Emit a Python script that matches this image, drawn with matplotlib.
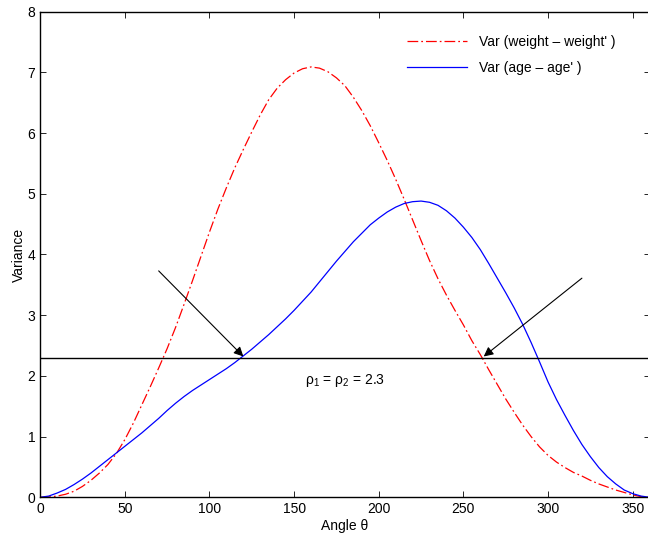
import matplotlib
matplotlib.use("Agg")
import matplotlib.pyplot as plt

plt.rcParams["font.family"] = ["Liberation Sans", "DejaVu Sans"]
plt.rcParams["mathtext.fontset"] = "custom"
plt.rcParams["mathtext.rm"] = "Liberation Sans"
plt.rcParams["mathtext.it"] = "Liberation Sans"

# angle (degrees) and variance
angle = list(range(0, 361, 5))
var_weight = [0, 0.005, 0.02, 0.05, 0.10, 0.18, 0.28, 0.40, 0.54, 0.72,
              0.95, 1.22, 1.52, 1.82, 2.13, 2.45, 2.80, 3.18, 3.57, 3.97,
              4.37, 4.75, 5.10, 5.43, 5.73, 6.02, 6.30, 6.55, 6.74, 6.88,
              6.99, 7.06, 7.09, 7.07, 7.01, 6.91, 6.78, 6.59, 6.37, 6.12,
              5.84, 5.55, 5.24, 4.91, 4.57, 4.23, 3.90, 3.60, 3.33, 3.08,
              2.84, 2.58, 2.35, 2.10, 1.86, 1.62, 1.40, 1.19, 1.00, 0.83,
              0.69, 0.58, 0.49, 0.41, 0.35, 0.28, 0.22, 0.17, 0.12, 0.08,
              0.04, 0.01, 0]
var_age = [0, 0.02, 0.07, 0.13, 0.21, 0.30, 0.40, 0.51, 0.62, 0.73,
           0.84, 0.95, 1.06, 1.18, 1.30, 1.43, 1.55, 1.66, 1.76, 1.85,
           1.94, 2.03, 2.12, 2.22, 2.33, 2.44, 2.56, 2.68, 2.81, 2.94,
           3.08, 3.23, 3.38, 3.55, 3.72, 3.89, 4.05, 4.21, 4.35, 4.49,
           4.60, 4.70, 4.78, 4.84, 4.87, 4.88, 4.86, 4.81, 4.72, 4.60,
           4.45, 4.28, 4.08, 3.85, 3.61, 3.37, 3.12, 2.85, 2.55, 2.23,
           1.90, 1.61, 1.35, 1.10, 0.87, 0.67, 0.49, 0.34, 0.22, 0.12,
           0.06, 0.02, 0]
rho = 2.3
# arrows: (start, end) in data coords
arrow_left = ((70, 3.73), (120, 2.32))
arrow_right = ((320, 3.61), (262, 2.32))

fig = plt.figure(figsize=(6.48, 5.36), dpi=100)
ax = fig.add_axes([0.062, 0.0722, 0.9405, 0.906])

ax.plot(angle, var_weight, color="red", lw=0.9, dashes=(8.6, 2.4, 1.4, 2.4),
        label="Var (weight \u2013 weight' )")
ax.plot(angle, var_age, color="blue", lw=0.9, label="Var (age \u2013 age' )")
ax.axhline(rho, color="black", lw=1.0)

for start, end in (arrow_left, arrow_right):
    ax.annotate("", xy=end, xytext=start,
                arrowprops=dict(arrowstyle="-|>", color="black", lw=0.8,
                                mutation_scale=14, shrinkA=0, shrinkB=0))

ax.text(156.7, 1.92, "\u03c1$_1$ = \u03c1$_2$ = 2.3", fontsize=10,
        va="center", ha="left")

ax.set_xlim(0, 360)
ax.set_ylim(0, 8)
ax.set_xticks(range(0, 351, 50))
ax.set_yticks(range(0, 9))
ax.tick_params(direction="in", top=True, right=True, length=4, width=0.6,
               labelsize=10)
for s in ax.spines.values():
    s.set_linewidth(1.0)

ax.set_xlabel("Angle \u03b8", fontsize=10, labelpad=2)
ax.set_ylabel("Variance", fontsize=10, labelpad=1)

ax.legend(loc="upper left", bbox_to_anchor=(0.628, 0.935),
          bbox_transform=fig.transFigure, frameon=False, fontsize=10,
          handlelength=4.3, handletextpad=0.9, labelspacing=0.9,
          borderpad=0, borderaxespad=0)

fig.savefig("out.png", dpi=100)
